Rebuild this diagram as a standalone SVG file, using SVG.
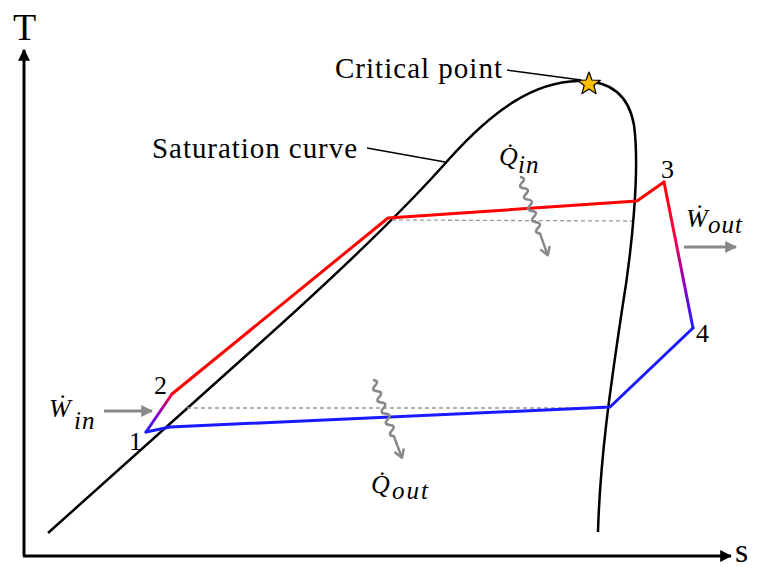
<svg xmlns="http://www.w3.org/2000/svg" width="757" height="570" viewBox="0 0 757 570">
<style>
.lbl{font-family:"Liberation Serif","Times New Roman",serif;fill:#000}
.math{font-family:"Liberation Serif","DejaVu Serif",serif;font-style:italic;fill:#000}
.axis{stroke:#000;stroke-width:3;fill:none}
.sat{stroke:#000;stroke-width:2.5;fill:none;stroke-linejoin:round}
.lead{stroke:#000;stroke-width:1.5;fill:none}
.dash{stroke:#999;stroke-width:1.3;stroke-dasharray:4 3;fill:none}
.cyc{stroke-width:3;fill:none;stroke-linejoin:round;stroke-linecap:round}
.garrow{stroke:#888;stroke-width:3;fill:none}
.wavy{stroke:#888;stroke-width:2.5;fill:none;stroke-linejoin:round}
</style>
<defs>
<marker id="ah" viewBox="0 0 10 10" refX="9" refY="5" markerWidth="4" markerHeight="4" orient="auto" markerUnits="strokeWidth">
<path d="M0,0 L10,5 L0,10 z" fill="#000"/>
</marker>
<marker id="gh" viewBox="0 0 10 10" refX="9" refY="5" markerWidth="4" markerHeight="4" orient="auto" markerUnits="strokeWidth">
<path d="M0,0 L10,5 L0,10 z" fill="#888"/>
</marker>
<linearGradient id="g34" gradientUnits="userSpaceOnUse" x1="664" y1="182" x2="693" y2="328">
<stop offset="0" stop-color="#ff0000"/>
<stop offset="0.35" stop-color="#ff0040"/>
<stop offset="0.7" stop-color="#9000c0"/>
<stop offset="1" stop-color="#2020ff"/>
</linearGradient>
<linearGradient id="g12" gradientUnits="userSpaceOnUse" x1="146" y1="432" x2="172" y2="394">
<stop offset="0" stop-color="#2020ff"/>
<stop offset="0.5" stop-color="#9000c0"/>
<stop offset="1" stop-color="#ff0030"/>
</linearGradient>
</defs>

<g id="axes">
<line class="axis" x1="24" y1="556" x2="24" y2="50" marker-end="url(#ah)"/>
<line class="axis" x1="23" y1="556" x2="731" y2="556" marker-end="url(#ah)"/>
<text class="lbl" x="13" y="40" font-size="38">T</text>
<text class="lbl" x="735" y="562" font-size="34">s</text>
</g>

<g id="saturation-curve">
<path class="sat" d="M48,533 L240,361 C320,290 400,215 450,158 C495,108 535,82 578,81 C612,80 629,96 634,125 C640,170 632,250 622,310 C610,390 600,460 598,532"/>
</g>

<g id="critical-point">
<polygon points="589,72 591.9,80 600.4,80.3 593.8,85.5 596.1,93.7 589,89 581.9,93.7 584.2,85.5 577.6,80.3 586.1,80" fill="#ffc000" stroke="#000" stroke-width="1.2" stroke-linejoin="round"/>
</g>

<g id="labels">
<text class="lbl" x="335" y="78" font-size="29" textLength="167" lengthAdjust="spacing">Critical point</text>
<text class="lbl" x="152" y="158" font-size="29" textLength="205" lengthAdjust="spacing">Saturation curve</text>
<text class="lbl" x="129" y="450" font-size="26">1</text>
<text class="lbl" x="154" y="394" font-size="26">2</text>
<text class="lbl" x="661" y="178" font-size="26">3</text>
<text class="lbl" x="696" y="342" font-size="26">4</text>
</g>

<g id="connectors">
<line class="lead" x1="507" y1="70" x2="581" y2="80"/>
<line class="lead" x1="367" y1="148" x2="445" y2="162"/>
<line class="dash" x1="392" y1="220" x2="632" y2="221"/>
<line class="dash" x1="187" y1="408" x2="605" y2="408"/>
<polyline class="cyc" stroke="#ff0000" points="172,394 388,218 637,201 664,182"/>
<line class="cyc" stroke="url(#g34)" x1="664" y1="182" x2="693" y2="328"/>
<polyline class="cyc" stroke="#1a1aff" points="693,328 610,407 170,427 146,432"/>
<line class="cyc" stroke="url(#g12)" x1="146" y1="432" x2="172" y2="394"/>
</g>

<g id="W-in">
<line class="garrow" x1="104" y1="411" x2="152" y2="411" marker-end="url(#gh)"/>
<text class="math" x="49" y="417" font-size="26">Ẇ</text>
<text class="math" x="74" y="429" font-size="25" letter-spacing="1">in</text>
</g>

<g id="W-out">
<line class="garrow" x1="684" y1="247" x2="736" y2="247" marker-end="url(#gh)"/>
<text class="math" x="686" y="227" font-size="26">Ẇ</text>
<text class="math" x="708" y="233" font-size="25" letter-spacing="1">out</text>
</g>

<g id="Q-in">
<g transform="translate(520,177) rotate(70.5)">
<path class="wavy" d="M0,0 Q3,-6 6,0 T12,0 T18,0 T24,0 T30,0 T36,0 T42,0 T48,0 T54,0 T60,0 L82,0"/>
<path class="wavy" d="M75,-5 L83,0 L75,5" stroke-width="2"/>
</g>
<text class="math" x="499" y="165" font-size="26">Q̇</text>
<text class="math" x="518" y="173" font-size="25" letter-spacing="1">in</text>
</g>

<g id="Q-out">
<g transform="translate(373,380) rotate(69.6)">
<path class="wavy" d="M0,0 Q3,-6 6,0 T12,0 T18,0 T24,0 T30,0 T36,0 T42,0 T48,0 T54,0 T60,0 L82,0"/>
<path class="wavy" d="M75,-5 L83,0 L75,5" stroke-width="2"/>
</g>
<text class="math" x="371" y="493" font-size="26">Q̇</text>
<text class="math" x="392" y="499" font-size="25" letter-spacing="2">out</text>
</g>
</svg>
